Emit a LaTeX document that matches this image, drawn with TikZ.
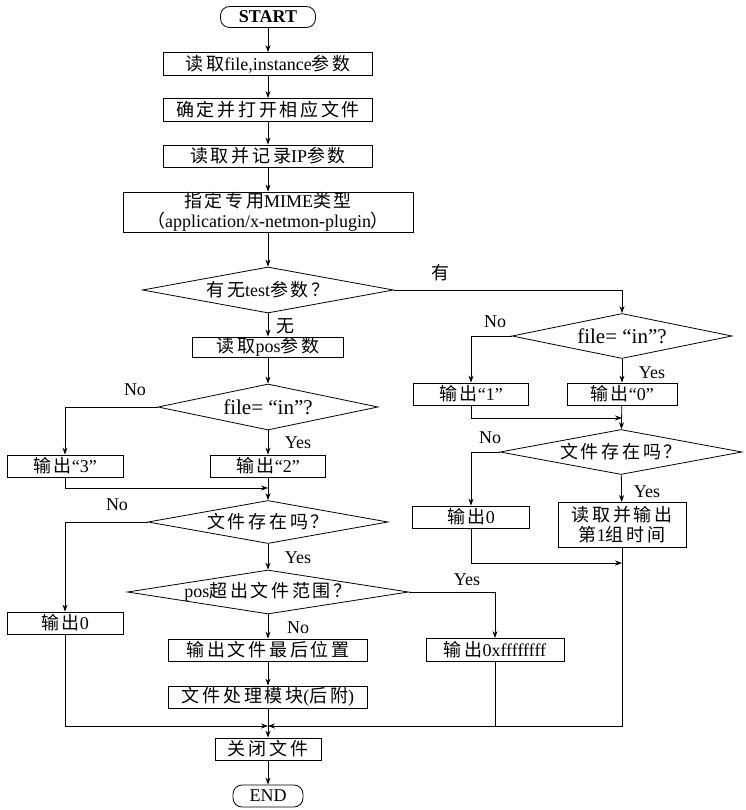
\documentclass[tikz,border=0pt]{standalone}
\usepackage{fontspec}
\setmainfont{Liberation Serif}
\newfontfamily\cjk[LetterSpace=15]{Noto Sans CJK SC}
\usetikzlibrary{shapes.geometric,arrows.meta}
\newcommand{\dtxt}[1]{\makebox[0pt]{#1}}
\newcommand{\biglat}[1]{{\fontsize{21pt}{22pt}\selectfont #1}}
\tikzset{
  every node/.style={font=\fontsize{18pt}{20pt}\selectfont},
  box/.style={draw, line width=0.8pt, inner sep=0pt, align=center},
  dec/.style={draw, diamond, line width=0.8pt, inner sep=0pt, aspect=1},
  term/.style={draw, line width=0.8pt, rounded corners=9pt, inner sep=0pt},
  arr/.style={line width=0.8pt, -{Stealth[length=7pt,width=5pt]}},
  ln/.style={line width=0.8pt},
  lab/.style={inner sep=1pt}
}
\begin{document}
\begin{tikzpicture}[x=1pt,y=-1pt]
\useasboundingbox (0,0) rectangle (745,810);
% main column
\node[term, minimum width=95pt, minimum height=21pt] (start) at (268,17) {\textbf{START}};
\node[box, minimum width=209pt, minimum height=23pt] (b1) at (268,64) {{\cjk 读取}file,instance{\cjk 参数}};
\node[box, minimum width=209pt, minimum height=23pt] (b2) at (268,110) {\cjk 确定并打开相应文件};
\node[box, minimum width=209pt, minimum height=22pt] (b3) at (268,156) {{\cjk 读取并记录}IP{\cjk 参数}};
\node[box, minimum width=290pt, minimum height=40pt] (b4) at (268,212) {{\cjk 指定专用}MIME{\cjk 类型}\\{\cjk （}application/x-netmon-plugin{\cjk ）}};
\node[dec, minimum width=251pt, minimum height=46pt] (d1) at (268,290) {\dtxt{{\cjk 有无}test{\cjk 参数？}}};
\node[box, minimum width=151pt, minimum height=20pt] (bpos) at (268,347) {{\cjk 读取}pos{\cjk 参数}};
\node[dec, minimum width=220pt, minimum height=46pt] (dL1) at (268,407) {\dtxt{\biglat{file= “in”?}}};
\node[box, minimum width=116pt, minimum height=22pt] (o3) at (65,466) {{\cjk 输出}“3”};
\node[box, minimum width=115pt, minimum height=22pt] (o2) at (268,466) {{\cjk 输出}“2”};
\node[dec, minimum width=240pt, minimum height=43pt] (dL2) at (268,522) {\dtxt{\cjk 文件存在吗？}};
\node[dec, minimum width=281pt, minimum height=44pt] (dL3) at (268,592) {\dtxt{pos{\cjk 超出文件范围？}}};
\node[box, minimum width=116pt, minimum height=22pt] (o0L) at (65,623) {{\cjk 输出}0};
\node[box, minimum width=199pt, minimum height=22pt] (bLast) at (268,650) {\cjk 输出文件最后位置};
\node[box, minimum width=199pt, minimum height=22pt] (bMod) at (268,697) {{\cjk 文件处理模块}({\cjk 后附})};
\node[box, minimum width=106pt, minimum height=22pt] (close) at (268,749) {\cjk 关闭文件};
\node[term, minimum width=70pt, minimum height=22pt] (end) at (268,796) {END};
\node[box, minimum width=138pt, minimum height=23pt] (oxf) at (495,650) {{\cjk 输出}0xffffffff};
% right column
\node[dec, minimum width=220pt, minimum height=45pt] (dR1) at (622,336) {\dtxt{\biglat{file= “in”?}}};
\node[box, minimum width=115pt, minimum height=22pt] (o1) at (471,394) {{\cjk 输出}“1”};
\node[box, minimum width=110pt, minimum height=22pt] (o0) at (622,394) {{\cjk 输出}“0”};
\node[dec, minimum width=242pt, minimum height=45pt] (dR2) at (621,452) {\dtxt{\cjk 文件存在吗？}};
\node[box, minimum width=117pt, minimum height=22pt] (o0R) at (471,517) {{\cjk 输出}0};
\node[box, minimum width=128pt, minimum height=45pt] (bread) at (622,525) {{\cjk 读取并输出}\\{\cjk 第}1{\cjk 组时间}};
% merge points
\coordinate (m1) at (268,488);
\coordinate (m2) at (622,418);
\coordinate (m4) at (622,563);
\coordinate (m3) at (268,726);
% connectors main
\draw[arr] (start) -- (b1);
\draw[arr] (b1) -- (b2);
\draw[arr] (b2) -- (b3);
\draw[arr] (b3) -- (b4);
\draw[arr] (b4) -- (d1);
\draw[arr] (d1) -- (bpos);
\draw[arr] (bpos) -- (dL1);
\draw[arr] (dL1) -- (o2);
\draw[arr] (dL1.west) -| (o3.north);
\draw[arr] (o3.south) |- (m1);
\draw[arr] (o2) -- (dL2);
\draw[arr] (dL2) -- (dL3);
\draw[arr] (dL2.west) -| (o0L.north);
\draw[arr] (dL3) -- (bLast);
\draw[arr] (dL3.east) -| (oxf.north);
\draw[arr] (bLast) -- (bMod);
\draw[arr] (bMod) -- (close);
\draw[arr] (o0L.south) |- (m3);
\draw[ln] (oxf.south) -- (oxf.south |- m3);
\draw[arr] (bread.south) |- (m3);
\draw[arr] (close) -- (end);
% connectors right
\draw[arr] (d1.east) -| (dR1.north);
\draw[arr] (dR1) -- (o0);
\draw[arr] (dR1.west) -| (o1.north);
\draw[arr] (o1.south) |- (m2);
\draw[arr] (o0) -- (dR2);
\draw[arr] (dR2) -- (bread);
\draw[arr] (dR2.west) -| (o0R.north);
\draw[arr] (o0R.south) |- (m4);
% labels
\node[lab] (tY) at (440,273) {\cjk 有};
\node[lab] (tN) at (285,326) {\cjk 无};
\node[lab] (n1) at (135,390) {No};
\node[lab] (y1) at (298,443) {Yes};
\node[lab] (n2) at (117,505) {No};
\node[lab] (y2) at (298,558) {Yes};
\node[lab] (n3) at (298,628) {No};
\node[lab] (y3) at (467,580) {Yes};
\node[lab] (n4) at (495,322) {No};
\node[lab] (y4) at (652,373) {Yes};
\node[lab] (n5) at (490,438) {No};
\node[lab] (y5) at (647,492) {Yes};
\end{tikzpicture}
\end{document}
